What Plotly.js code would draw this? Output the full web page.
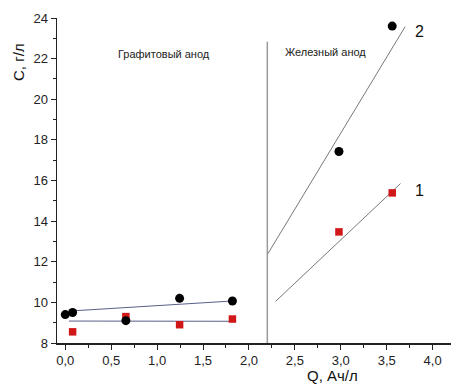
<!DOCTYPE html>
<html><head><meta charset="utf-8">
<script src="https://cdn.plot.ly/plotly-3.0.1.min.js"></script>
<style>html,body{margin:0;padding:0;background:#fff}#chart{width:451px;height:385px}</style>
</head><body><div id="chart"></div>
<script>
// Series 2 (black circles)
const qBlack = [0.0, 0.08, 0.66, 1.245, 1.82, 2.98, 3.56];
const cBlack = [9.4, 9.5, 9.1, 10.2, 10.07, 17.43, 23.6];
// Series 1 (red squares)
const qRed = [0.08, 0.66, 1.245, 1.82, 2.98, 3.56];
const cRed = [8.55, 9.3, 8.9, 9.18, 13.47, 15.39];
// Fit lines
const fit2LeftQ = [0.07, 1.83], fit2LeftC = [9.58, 10.07];
const fit1LeftQ = [0.04, 1.82], fit1LeftC = [9.08, 9.07];
const fit2RightQ = [2.207, 3.70], fit2RightC = [12.4, 23.57];
const fit1RightQ = [2.29, 3.65], fit1RightC = [10.05, 15.85];
// Separator between anodes
const sepQ = [2.2, 2.2], sepC = [8, 22.83];
// Labels
const regionLabels = ["Графитовый анод", "Железный анод"];
const regionQ = [1.08, 2.83], regionC = [22.22, 22.32];
const seriesLabels = ["2", "1"];
const seriesLabelQ = [3.86, 3.86], seriesLabelC = [23.35, 15.52];

const font = "Liberation Sans, Arial, sans-serif";
const lineTrace = (x, y, color, w) => ({x, y, mode: "lines", line: {color, width: w}, hoverinfo: "skip"});
const data = [
  lineTrace(sepQ, sepC, "#9a9a9a", 1.5),
  lineTrace(fit2LeftQ, fit2LeftC, "#5a5f8a", 1),
  lineTrace(fit1LeftQ, fit1LeftC, "#5a5f8a", 1),
  lineTrace(fit2RightQ, fit2RightC, "#555555", 0.8),
  lineTrace(fit1RightQ, fit1RightC, "#555555", 0.8),
  {x: qRed, y: cRed, mode: "markers", marker: {symbol: "square", size: 7.5, color: "#d01818"}},
  {x: qBlack, y: cBlack, mode: "markers", marker: {symbol: "circle", size: 9, color: "#000000"}}
];
const annotations = [];
regionLabels.forEach((t, i) => annotations.push({x: regionQ[i], y: regionC[i], text: t, showarrow: false, font: {family: font, size: 11, color: "#222"}}));
seriesLabels.forEach((t, i) => annotations.push({x: seriesLabelQ[i], y: seriesLabelC[i], text: t, showarrow: false, font: {family: font, size: 16, color: "#111"}}));
annotations.push({xref: "paper", yref: "paper", x: -0.125, y: 0.93, text: "C, г/л", textangle: -90, showarrow: false, font: {family: font, size: 15, color: "#111"}});
annotations.push({xref: "paper", yref: "paper", x: 0.77, y: -0.1, yanchor: "middle", text: "Q, Ач/л", showarrow: false, font: {family: font, size: 15, color: "#111"}});

const layout = {
  width: 451, height: 385,
  margin: {l: 57, r: 0, t: 18, b: 42},
  paper_bgcolor: "#fff", plot_bgcolor: "#fff",
  showlegend: false,
  separators: ", ",
  font: {family: font, size: 13, color: "#222"},
  xaxis: {range: [-0.09, 4.2], dtick: 0.5, tick0: 0, tickformat: ".1f", ticks: "outside", ticklen: 5, tickcolor: "#222",
          showline: true, linecolor: "#222", linewidth: 1.5, showgrid: false, zeroline: false, mirror: false,
          minor: {dtick: 0.25, tick0: 0, ticks: "outside", ticklen: 3, tickcolor: "#222", showgrid: false}},
  yaxis: {range: [8, 24], dtick: 2, ticks: "outside", ticklen: 5, tickcolor: "#222",
          showline: true, linecolor: "#222", linewidth: 1.5, showgrid: false, zeroline: false, mirror: false,
          minor: {dtick: 1, ticks: "outside", ticklen: 3, tickcolor: "#222", showgrid: false}},
  annotations
};
Plotly.newPlot("chart", data, layout, {displayModeBar: false, staticPlot: true});
</script></body></html>
